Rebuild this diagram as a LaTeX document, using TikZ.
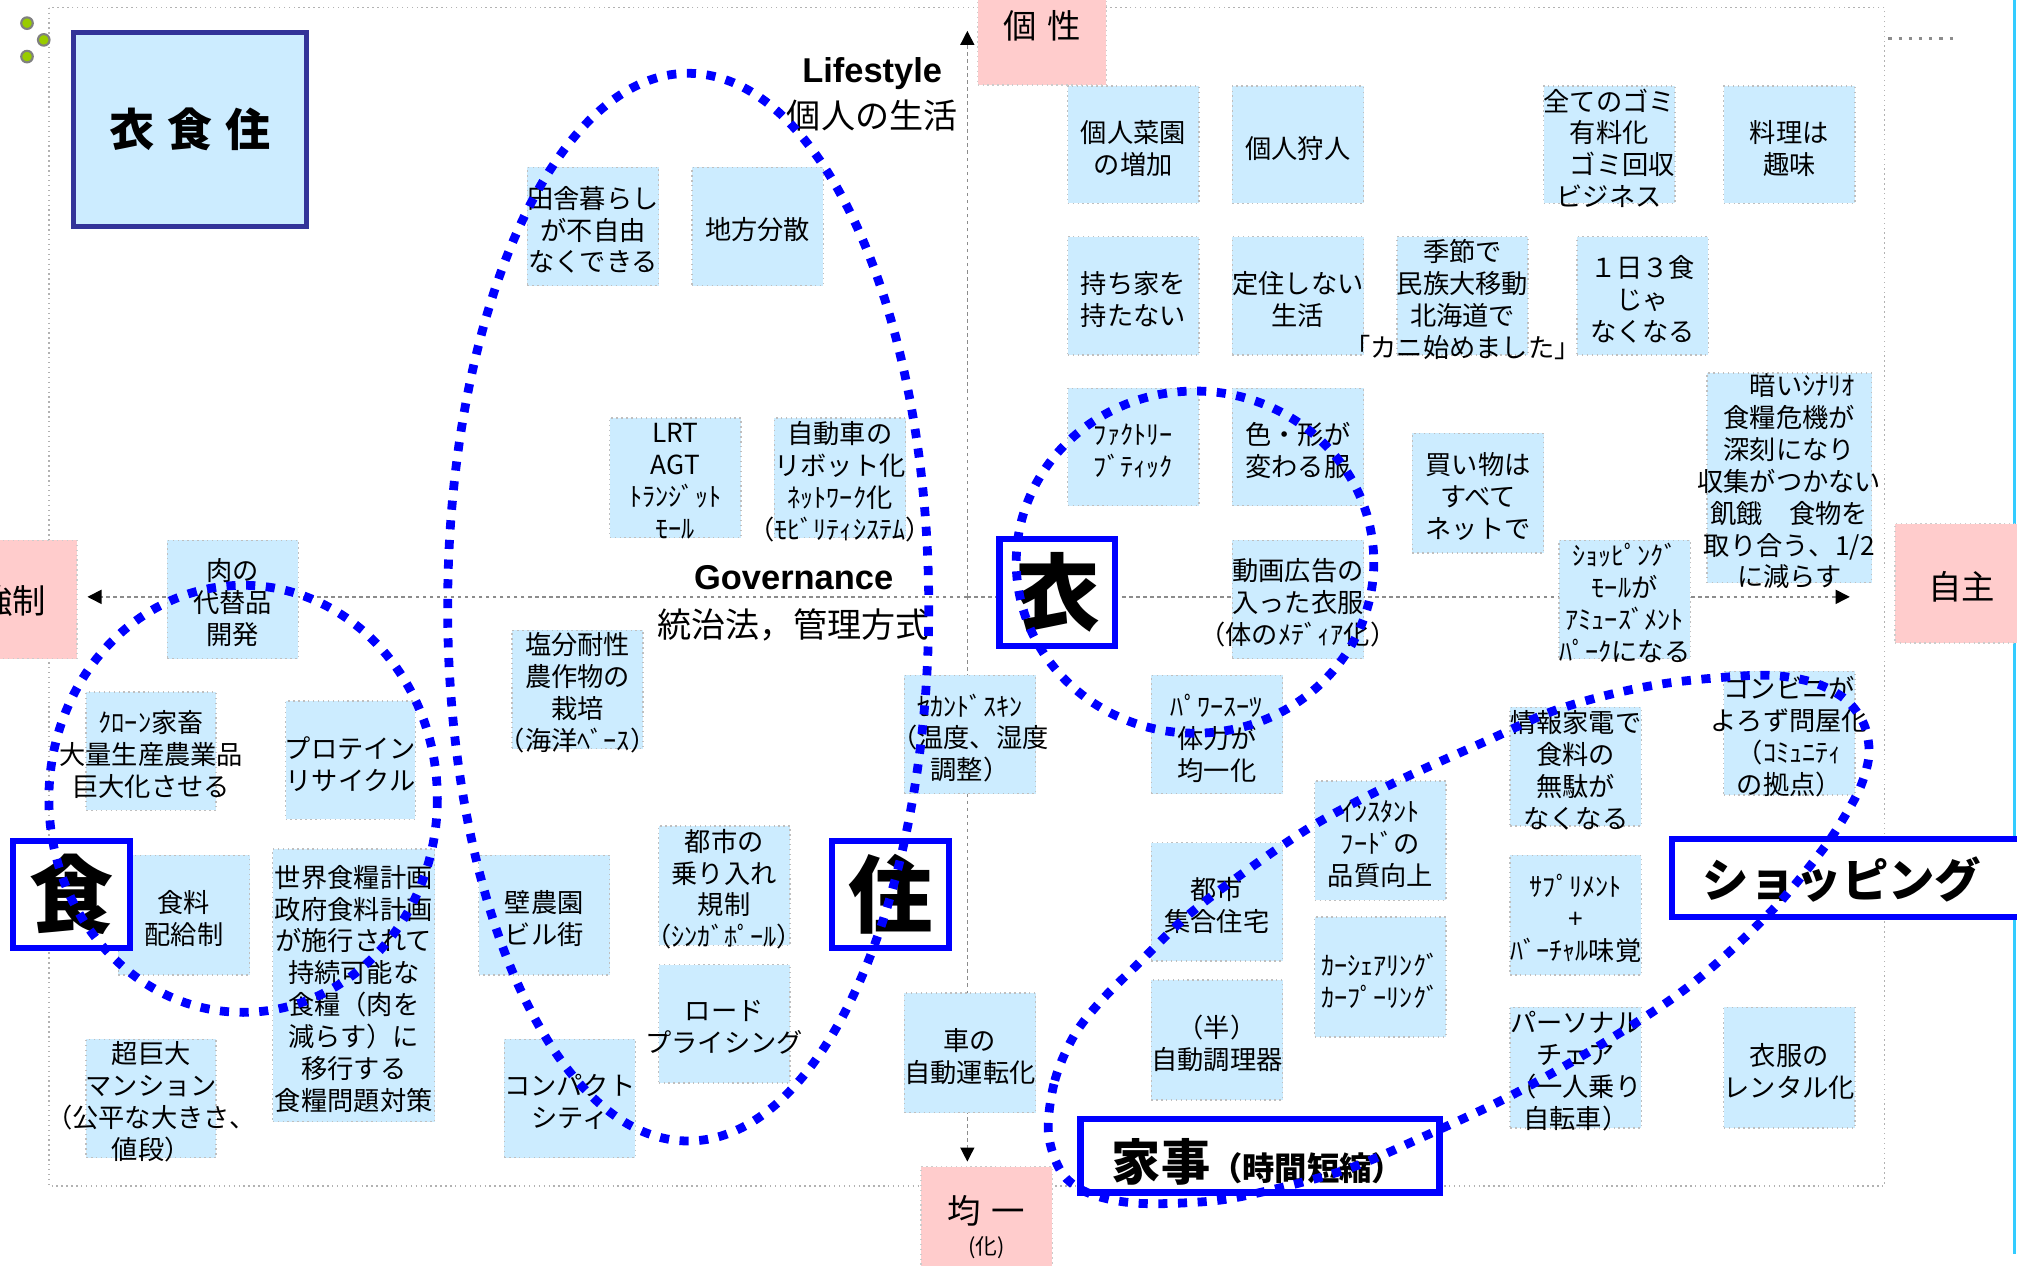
\documentclass[tikz,border=0pt]{standalone}
\usepackage{fontspec}
\setmainfont{Noto Sans CJK JP}
\newfontfamily\lat{Liberation Sans}
\usetikzlibrary{arrows.meta,fit}
\definecolor{boxblue}{HTML}{CCECFF}
\definecolor{pinkbg}{HTML}{FFCCCC}
\definecolor{navy}{HTML}{333399}
\definecolor{pureblue}{HTML}{0000FF}
\definecolor{leaf}{HTML}{99CC00}
\definecolor{cyanline}{HTML}{33CCFF}
\tikzset{
  idea/.style={fill=boxblue, draw=black!25, densely dotted, line width=0.4pt, inner sep=0pt},
  ideatext/.style={inner sep=0pt, align=center, font={\fontsize{7.47}{9.08}\selectfont}},
  pole/.style={fill=pinkbg, draw=black!20, densely dotted, line width=0.4pt, inner sep=0pt},
  poletext/.style={inner sep=0pt, font={\fontsize{9.5}{11}\selectfont}},
  theme/.style={draw=pureblue, fill=white, line width=1.8pt, inner sep=0pt},
  bigchar/.style={inner sep=0pt, font={\fontsize{24}{26}\selectfont\bfseries}},
  zone/.style={draw=pureblue, line width=2.5pt, dash pattern=on 2.6pt off 3pt},
  axisline/.style={draw=black!45, line width=0.4pt, dash pattern=on 1pt off 1pt, -{Triangle[length=4pt,width=4pt,color=black]}},
}
\newcommand\ideabox[4]{%
  \node[idea, fit={#2 #3}] (#1) {};
  \node[ideatext] (#1-t) at ([yshift=-1pt]#1.center) {#4};
}
\begin{document}
\begin{tikzpicture}[x=0.012864cm, y=-0.012864cm]
\useasboundingbox (0,0) rectangle (1568,984);
% frame and decorations
\draw[black!30, line width=0.4pt, densely dotted] (38,6) rectangle (1465,922);
\draw[black!45, line width=0.9pt, dotted] (1468,30) -- (1518,30);
\draw[cyanline, line width=0.7pt] (1566,0) -- (1566,975);
\filldraw[fill=leaf, draw=gray, line width=0.6pt] (21,18) circle [radius=4.5];
\filldraw[fill=leaf, draw=gray, line width=0.6pt] (34,31) circle [radius=4.5];
\filldraw[fill=leaf, draw=gray, line width=0.6pt] (21,44) circle [radius=4.5];
% axes
\coordinate (O) at (752,464);
\coordinate (axT) at (752,24);
\coordinate (axB) at (752,903);
\coordinate (axL) at (68,464);
\coordinate (axR) at (1438,464);
\draw[axisline] (O) -- (axT);
\draw[axisline] (O) -- (axB);
\draw[axisline] (O) -- (axL);
\draw[axisline] (O) -- (axR);
% idea boxes
\ideabox{inaka}{(410,130)}{(512,222)}{田舎暮らし\\が不自由\\なくできる}
\ideabox{chiho}{(538,130)}{(640,222)}{地方分散}
\ideabox{saien}{(830,67)}{(932,158)}{個人菜園\\の増加}
\ideabox{karyudo}{(958,67)}{(1060,158)}{個人狩人}
\ideabox{gomi}{(1200,67)}{(1302,158)}{全てのゴミ\\有料化\\　ゴミ回収\\ビジネス}
\ideabox{ryori}{(1340,67)}{(1442,158)}{料理は\\趣味}
\ideabox{mochiie}{(830,184)}{(932,276)}{持ち家を\\持たない}
\ideabox{teiju}{(958,184)}{(1060,276)}{定住しない\\生活}
\ideabox{kisetsu}{(1086,184)}{(1188,276)}{季節で\\民族大移動\\北海道で\\「カニ始めました」}
\ideabox{sanshoku}{(1226,184)}{(1328,276)}{１日３食\\じゃ\\なくなる}
\ideabox{factory}{(830,302)}{(932,393)}{ﾌｧｸﾄﾘｰ\\ﾌﾞﾃｨｯｸ}
\ideabox{iro}{(958,302)}{(1060,393)}{色・形が\\変わる服}
\ideabox{kaimono}{(1098,337)}{(1200,430)}{買い物は\\すべて\\ネットで}
\ideabox{kurai}{(1327,290)}{(1455,453)}{　暗いｼﾅﾘｵ\\食糧危機が\\深刻になり\\収集がつかない\\飢餓　食物を\\取り合う、1/2\\に減らす}
\ideabox{lrt}{(474,325)}{(576,418)}{LRT\\AGT\\ﾄﾗﾝｼﾞｯﾄ\\ﾓｰﾙ}
\ideabox{jidosha}{(602,325)}{(704,418)}{自動車の\\リボット化\\ﾈｯﾄﾜｰｸ化\\（ﾓﾋﾞﾘﾃｨｼｽﾃﾑ）}
\ideabox{niku}{(130,420)}{(232,512)}{肉の\\代替品\\開発}
\ideabox{douga}{(958,420)}{(1060,512)}{動画広告の\\入った衣服\\（体のﾒﾃﾞｨｱ化）}
\ideabox{mall}{(1212,420)}{(1314,512)}{ｼｮｯﾋﾟﾝｸﾞ\\ﾓｰﾙが\\ｱﾐｭｰｽﾞﾒﾝﾄ\\ﾊﾟｰｸになる}
\ideabox{enbun}{(398,490)}{(500,582)}{塩分耐性\\農作物の\\栽培\\（海洋ﾍﾞｰｽ）}
\ideabox{clone}{(67,538)}{(168,630)}{ｸﾛｰﾝ家畜\\大量生産農業品\\巨大化させる}
\ideabox{protein}{(222,545)}{(323,637)}{プロテイン\\リサイクル}
\ideabox{second}{(703,525)}{(805,617)}{ｾｶﾝﾄﾞｽｷﾝ\\（温度、湿度\\調整）}
\ideabox{power}{(895,525)}{(997,617)}{ﾊﾟﾜｰｽｰﾂ\\体力が\\均一化}
\ideabox{johokaden}{(1174,550)}{(1276,642)}{情報家電で\\食料の\\無駄が\\なくなる}
\ideabox{conveni}{(1340,522)}{(1442,618)}{コンビニが\\よろず問屋化\\（ｺﾐｭﾆﾃｨ\\の拠点）}
\ideabox{haikyu}{(92,665)}{(194,758)}{食料\\配給制}
\ideabox{sekai}{(212,660)}{(338,872)}{世界食糧計画\\政府食料計画\\が施行されて\\持続可能な\\食糧（肉を\\減らす）に\\移行する\\食糧問題対策}
\ideabox{heki}{(372,665)}{(474,758)}{壁農園\\ビル街}
\ideabox{noriire}{(512,642)}{(614,735)}{都市の\\乗り入れ\\規制\\（ｼﾝｶﾞﾎﾟｰﾙ）}
\ideabox{road}{(512,750)}{(614,842)}{ロード\\プライシング}
\ideabox{mansion}{(67,808)}{(168,900)}{超巨大\\マンション\\（公平な大きさ、\\値段）}
\ideabox{compact}{(392,808)}{(494,900)}{コンパクト\\シティ}
\ideabox{kuruma}{(703,772)}{(805,865)}{車の\\自動運転化}
\ideabox{shugo}{(895,655)}{(997,747)}{都市\\集合住宅}
\ideabox{instant}{(1022,607)}{(1124,700)}{ｲﾝｽﾀﾝﾄ\\ﾌｰﾄﾞの\\品質向上}
\ideabox{chori}{(895,762)}{(997,855)}{（半）\\自動調理器}
\ideabox{carshare}{(1022,713)}{(1124,806)}{ｶｰｼｪｱﾘﾝｸﾞ\\ｶｰﾌﾟｰﾘﾝｸﾞ}
\ideabox{supple}{(1174,665)}{(1276,758)}{ｻﾌﾟﾘﾒﾝﾄ\\+\\ﾊﾞｰﾁｬﾙ味覚}
\ideabox{chair}{(1174,783)}{(1276,877)}{パーソナル\\チェア\\（一人乗り\\自転車）}
\ideabox{rental}{(1340,783)}{(1442,877)}{衣服の\\レンタル化}
% poles
\node[pole, fit={(760,-4) (860,66)}] (kosei) {};
\node[poletext] (kosei-t) at (810,20) {個\hspace{3pt}性};
\node[pole, fit={(-40,420) (60,512)}] (kyosei) {};
\node[poletext] (kyosei-t) at (10,467) {強制};
\node[pole, fit={(1473,407) (1590,500)}] (jishu) {};
\node[poletext] (jishu-t) at (1525,456) {自主};
\node[pole, fit={(716,907) (818,995)}] (kinitsu) {};
\node[poletext] (kinitsu-t) at (767,941) {均\hspace{3pt}一};
\node[inner sep=0pt, font={\fontsize{6.2}{7}\selectfont}] (ka-t) at (767,970) {(化)};
% titles
\node[fill=boxblue, draw=navy, line width=1.4pt, inner sep=0pt, fit={(57,25) (238,176)}] (ishokuju) {};
\node[inner sep=0pt, font={\fontsize{12.8}{14}\selectfont\bfseries}] (ishokuju-t) at (ishokuju.center) {衣\hspace{3.7pt}食\hspace{3.7pt}住};
\node[inner sep=0pt, font={\lat\bfseries\fontsize{9.8}{11}\selectfont}] (life) at (678,57) {Lifestyle};
\node[inner sep=0pt, font={\fontsize{9.7}{11}\selectfont}] (life-jp) at (678,90) {個人の生活};
\node[inner sep=0pt, font={\lat\bfseries\fontsize{9.8}{11}\selectfont}] (gov) at (617,449) {Governance};
\node[inner sep=0pt, font={\fontsize{9.7}{11}\selectfont}] (gov-jp) at (617,486) {統治法，管理方式};
% theme boxes
\node[theme, fit={(10,654) (101,737)}] (shoku) {};
\node[bigchar] (shoku-t) at (shoku.center) {食};
\node[theme, fit={(647,654) (738,737)}] (ju) {};
\node[bigchar] (ju-t) at (ju.center) {住};
\node[theme, fit={(777,419) (867,502)}] (i) {};
\node[bigchar] (i-t) at (i.center) {衣};
\node[theme, fit={(1300,652) (1590,713)}] (shopping) {};
\node[inner sep=0pt, font={\fontsize{13.2}{15}\selectfont\bfseries}] (shopping-t) at (1432,684) {ショッピング};
\node[theme, fit={(840,870) (1119,927)}] (kaji) {};
\node[inner sep=0pt] (kaji-t) at (978,903) {{\fontsize{14}{16}\selectfont\bfseries 家事}{\fontsize{9.2}{11}\selectfont\bfseries （時間短縮）}};
% zones
\draw[zone] (535,472) ellipse [x radius=187, y radius=415];
\draw[zone] (189,621) ellipse [x radius=151, y radius=166];
\draw[zone] (929,437) ellipse [x radius=139, y radius=133];
\draw[zone] plot[smooth cycle, tension=0.55] coordinates {
  (815,880) (820,840) (835,805) (856,778) (886,748) (923,712) (966,679)
  (1022,641) (1087,607) (1160,574) (1204,554) (1247,541) (1290,532) (1334,527)
  (1377,525) (1411,531) (1435,544) (1449,563) (1453,586) (1447,610) (1435,633)
  (1418,659) (1383,702) (1340,744) (1299,777) (1238,816) (1174,852) (1108,883)
  (1044,910) (966,930) (923,935) (879,935) (845,927) (825,911)};
\end{tikzpicture}
\end{document}
